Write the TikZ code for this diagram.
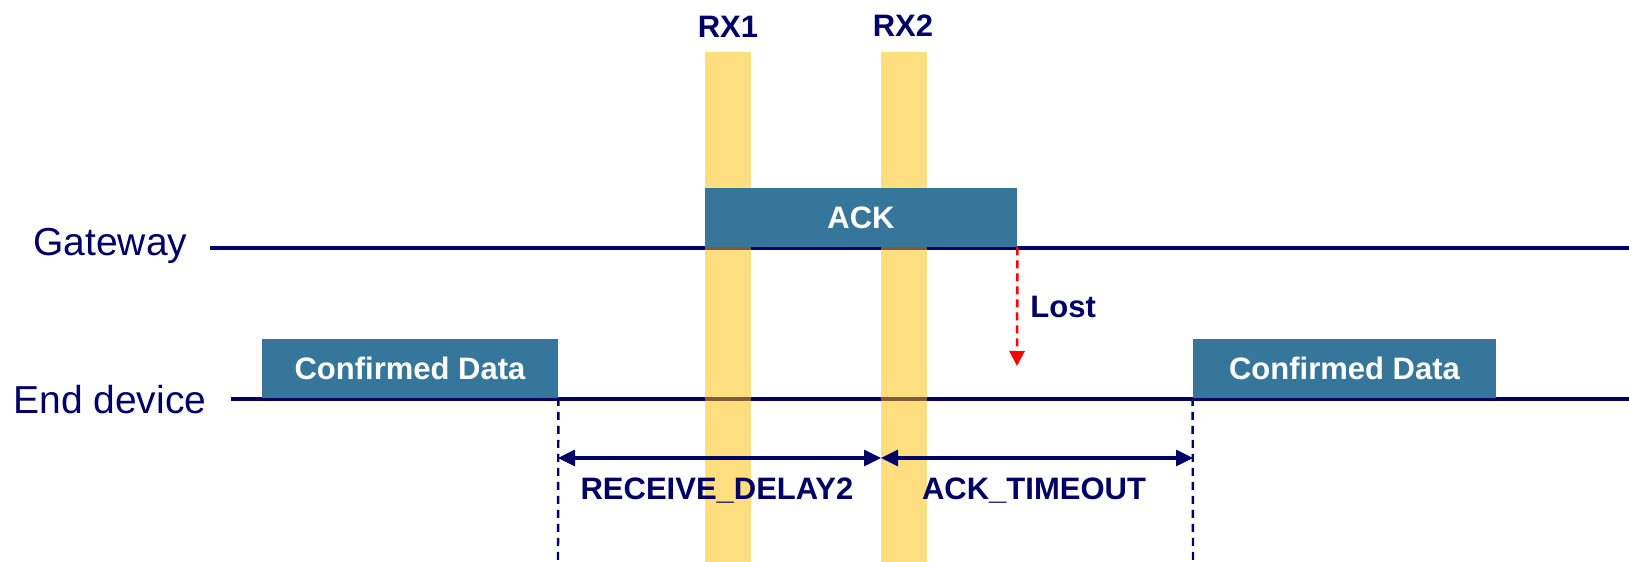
\documentclass[tikz,border=0pt]{standalone}
\usepackage{fontspec}
\setmainfont{Liberation Sans}
\usepackage{tikz}
\usetikzlibrary{arrows.meta,calc}
\usepackage{xcolor}
\definecolor{navy}{RGB}{0,0,102}
\definecolor{boxblue}{RGB}{54,118,155}
\definecolor{rxgold}{RGB}{255,189,0}

\begin{document}
\begin{tikzpicture}[x=0.5pt, y=-0.5pt, >={Triangle[length=8.5pt,width=8pt]},
    timeline/.style={navy, line width=1.6pt},
    rxbar/.style={fill=rxgold, fill opacity=0.5},
    msgbox/.style={fill=boxblue, text=white, inner sep=0pt, font=\bfseries\fontsize{15.5}{18}\selectfont},
    lbl/.style={text=navy, inner sep=0pt, anchor=base, font=\bfseries\fontsize{15.5}{18}\selectfont},
    party/.style={text=navy, inner sep=0pt, anchor=base west, font=\fontsize{19.5}{23}\selectfont},
    guide/.style={navy, line width=1.2pt, dash pattern=on 4pt off 3pt}]
    \useasboundingbox (0,0) rectangle (1629,562);
    \node[party] (gw) at (33,255) {Gateway};
    \node[party] (ed) at (13,413) {End device};
    \coordinate (gwstart) at (210,248);
    \coordinate (gwend) at (1629,248);
    \coordinate (edstart) at (231,399);
    \coordinate (edend) at (1629,399);
    \draw[timeline] (gwstart) -- (gwend);
    \draw[timeline] (edstart) -- (edend);
    \fill[rxbar] (705,52) rectangle (751,562);
    \fill[rxbar] (881,52) rectangle (927,562);
    \node[lbl] (rx1) at (728,37) {RX1};
    \node[lbl] (rx2) at (903,36) {RX2};
    \node[msgbox, minimum width=156pt, minimum height=29.5pt] (ack) at (861,217.5) {ACK};
    \node[msgbox, minimum width=148pt, minimum height=29.5pt] (data1) at (410,368) {Confirmed Data};
    \node[msgbox, minimum width=151.5pt, minimum height=29.5pt] (data2) at (1344.5,368) {Confirmed Data};
    \coordinate (lostend) at (1017,366);
    \draw[-{Triangle[length=7.5pt,width=7.5pt]}, red, line width=1.3pt, dash pattern=on 4pt off 2.5pt] (ack.south east) -- (lostend);
    \node[lbl, anchor=base west] (lost) at (1030,317) {Lost};
    \coordinate (d1bot) at (558,562);
    \coordinate (d2bot) at (1193,562);
    \draw[guide] (data1.south east) -- (d1bot);
    \draw[guide] (data2.south west) -- (d2bot);
    \coordinate (a1) at (558,458);
    \coordinate (a2) at (881,458);
    \coordinate (a3) at (1193,458);
    \draw[<->, navy, line width=1.6pt] (a1) -- (a2);
    \draw[<->, navy, line width=1.6pt] (a2) -- (a3);
    \node[lbl] (rxdelay) at (717,499) {RECEIVE\_DELAY2};
    \node[lbl] (acktimeout) at (1034,499) {ACK\_TIMEOUT};
\end{tikzpicture}
\end{document}
